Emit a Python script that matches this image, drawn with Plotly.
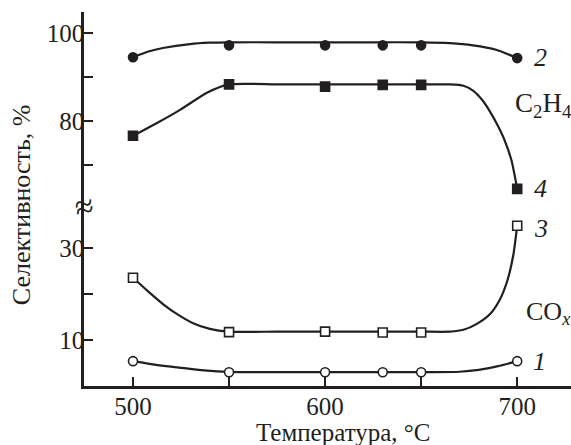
import plotly.graph_objects as go

# ---- data ----
temps = [500, 550, 600, 630, 650, 700]
s1_markers = [5.4, 3.0, 3.0, 3.0, 3.0, 5.4]      # COx, open circles (1)
s2_markers = [94.5, 97.2, 97.2, 97.2, 97.2, 94.3]  # C2H4, filled circles (2)
s3_markers = [23.5, 11.7, 11.8, 11.6, 11.6, 34.8]  # COx, open squares (3)
s4_markers = [76.6, 88.3, 87.8, 88.2, 88.2, 64.5]  # C2H4, filled squares (4)

# hand-drawn fitted curves
c1_x = [500, 512, 524, 537, 550, 575, 600, 625, 650, 670, 680, 690, 700]
c1_y = [5.4, 4.6, 4.0, 3.4, 3.05, 3.0, 3.0, 3.0, 3.0, 3.1, 3.5, 4.3, 5.4]
c2_x = [500, 508, 515.6, 529.7, 540, 550, 575, 600, 625, 650, 665, 677, 689, 700]
c2_y = [94.5, 95.8, 96.6, 97.5, 97.8, 97.9, 97.9, 97.9, 97.9, 97.9, 97.7, 97.2, 96.2, 94.3]
c3_x = [500, 508, 515.6, 523, 531, 540, 550, 575, 600, 625, 650, 665, 672, 679, 686, 691, 694.8, 698, 700]
c3_y = [23.5, 20.5, 17.8, 15.6, 13.7, 12.4, 11.8, 11.8, 11.8, 11.8, 11.8, 11.8, 12.2, 13.5, 15.7, 18.8, 22.8, 28.5, 34.8]
c4_x = [500, 512.5, 524.5, 538.5, 550, 575, 600, 625, 650, 665, 672, 677, 681.7, 686, 690, 693.5, 697, 700]
c4_y = [76.6, 79.5, 82.5, 86.4, 88.3, 88.3, 88.3, 88.3, 88.3, 88.3, 88.0, 86.9, 84.8, 82.0, 78.8, 75.5, 71.0, 64.5]

x_ticks = [500, 550, 600, 650, 700]
x_ticktext = ["500", "", "600", "", "700"]
y_low_ticks = [10, 20, 30]
y_low_text = ["10", "", "30"]
y_up_ticks = [70, 80, 90, 100]
y_up_text = ["", "80", "", "100"]

FONT = "Liberation Serif, Times New Roman, serif"
BLK = "#231f20"

fig = go.Figure()

def curve(x, y, yaxis):
    fig.add_trace(go.Scatter(x=x, y=y, mode="lines", yaxis=yaxis,
                             line=dict(color=BLK, width=2.2, shape="spline", smoothing=0.6),
                             hoverinfo="skip", showlegend=False))

def marks(y, yaxis, symbol, fill, size):
    fig.add_trace(go.Scatter(x=temps, y=y, mode="markers", yaxis=yaxis,
                             marker=dict(symbol=symbol, size=size, color=fill,
                                         line=dict(color=BLK, width=1.6)),
                             showlegend=False))

curve(c1_x, c1_y, "y")
curve(c3_x, c3_y, "y")
curve(c2_x, c2_y, "y2")
curve(c4_x, c4_y, "y2")
marks(s1_markers, "y", "circle", "white", 9)
marks(s3_markers, "y", "square", "white", 9)
marks(s2_markers, "y2", "circle", BLK, 9)
marks(s4_markers, "y2", "square", BLK, 9)

split = 0.479
axis_common = dict(showline=True, linecolor=BLK, linewidth=2.5, ticks="inside",
                   ticklen=9, tickwidth=2.2, tickcolor=BLK, showgrid=False,
                   zeroline=False, tickfont=dict(family=FONT, size=25, color=BLK))

fig.update_layout(
    width=571, height=445,
    margin=dict(l=84, r=0, t=12, b=59),
    paper_bgcolor="white", plot_bgcolor="white",
    xaxis=dict(range=[474.5, 728], tickvals=x_ticks, ticktext=x_ticktext,
               anchor="y", ticklabelstandoff=-4, **axis_common),
    yaxis=dict(domain=[0, split], range=[0, 38.9], tickvals=y_low_ticks,
               ticktext=y_low_text, anchor="x", ticklabelstandoff=-8, **axis_common),
    yaxis2=dict(domain=[split, 1], range=[60.4, 104.8], tickvals=y_up_ticks,
                ticktext=y_up_text, anchor="x", ticklabelstandoff=-8, **axis_common),
)

ann = [
    dict(x=712, y=94.5, yref="y2", text="<i>2</i>", size=26),
    dict(x=713.5, y=83.5, yref="y2", text="C<sub>2</sub>H<sub>4</sub>", size=27),
    dict(x=712, y=64.5, yref="y2", text="<i>4</i>", size=26),
    dict(x=712.5, y=34.2, yref="y", text="<i>3</i>", size=26),
    dict(x=716, y=15.9, yref="y", text="CO<sub><i>x</i></sub>", size=26),
    dict(x=711.5, y=5.4, yref="y", text="<i>1</i>", size=26),
]
for a in ann:
    fig.add_annotation(x=a["x"], y=a["y"], xref="x", yref=a["yref"], text=a["text"],
                       showarrow=False, font=dict(family=FONT, size=a["size"], color=BLK),
                       xanchor="center", yanchor="middle")

fig.add_annotation(x=0.0, y=split, xref="paper", yref="paper", text="≈",
                   showarrow=False, font=dict(family=FONT, size=34, color=BLK),
                   xanchor="center", yanchor="middle", textangle=-10)
fig.add_annotation(x=0.532, y=-0.124, xref="paper", yref="paper",
                   text="Температура, °C", showarrow=False,
                   font=dict(family=FONT, size=25, color=BLK),
                   xanchor="center", yanchor="middle")
fig.add_annotation(x=-0.127, y=0.484, xref="paper", yref="paper",
                   text="Селективность, %", showarrow=False, textangle=-90,
                   font=dict(family=FONT, size=26, color=BLK),
                   xanchor="center", yanchor="middle")

fig.write_html("out.html")
